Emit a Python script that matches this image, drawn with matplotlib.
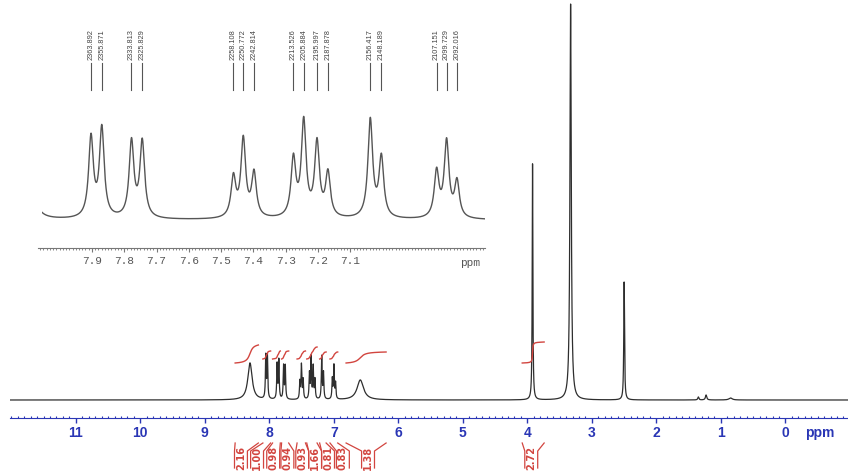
#!/usr/bin/env python
"""
1H NMR spectrum with an expanded view of the aromatic region
"""

import numpy as np
import matplotlib
matplotlib.use("Agg")
import matplotlib.pyplot as plt
from matplotlib.ticker import MultipleLocator
from matplotlib.transforms import Affine2D, blended_transform_factory

W, H = 848, 474
SPEC_MHZ = 300.0

# aromatic lines picked in the expansion (Hz) and their heights in the inset
LINE_HZ = [2363.892, 2355.871, 2333.813, 2325.829, 2258.108, 2250.772, 2242.814,
           2213.526, 2205.884, 2195.997, 2187.878, 2156.417, 2148.189,
           2107.151, 2099.729, 2092.016]
LINE_AMP = [80, 89, 76, 76, 40, 78, 44, 58, 95, 74, 44, 98, 60, 46, 76, 36]
LINE_HW = 0.007

# doublet just outside the expansion
EXTRA_PPM = [8.055, 8.030]
EXTRA_AMP = [98, 98]

# other signals of the full spectrum: position, height, half width
SINGLET_PPM = [8.30, 6.59, 3.92, 3.33, 2.50, 1.35, 1.23, 0.85]
SINGLET_AMP = [37, 20, 236, 396, 118, 3, 5, 2]
SINGLET_HW = [0.04, 0.06, 0.006, 0.012, 0.007, 0.01, 0.012, 0.03]

# integrals
INT_VALUES = ["2.16", "1.00", "0.98", "0.94", "0.93", "1.66", "0.81", "0.83", "1.38", "2.72"]
INT_FROM = [8.53, 8.10, 7.95, 7.81, 7.57, 7.42, 7.22, 7.06, 6.81, 4.08]
INT_TO = [8.17, 7.98, 7.83, 7.70, 7.44, 7.26, 7.12, 6.94, 6.19, 3.74]
INT_BASE = [37, 41, 41, 41, 41, 41, 41, 41, 37, 37]
INT_RISE = [18, 8, 8, 8, 8, 12, 7, 7, 11, 21]
INT_LABEL_PPM = [8.44, 8.19, 7.94, 7.72, 7.49, 7.29, 7.09, 6.86, 6.47, 3.94]

MAIN_TICKS = list(range(0, 12))
INSET_TICKS = [7.9, 7.8, 7.7, 7.6, 7.5, 7.4, 7.3, 7.2, 7.1]

BLUE = "#2a36b5"
RED = "#d2453f"
INSET_SCALE = 1 / 2.3   # inset heights -> main heights


def lorentz(x, x0, amp, hw):
    return amp * hw ** 2 / ((x - x0) ** 2 + hw ** 2)


def spectrum(ppm, main=True):
    y = np.zeros_like(ppm)
    scale = INSET_SCALE if main else 1.0
    line_ppm = [hz / SPEC_MHZ for hz in LINE_HZ] + EXTRA_PPM
    line_amp = LINE_AMP + EXTRA_AMP
    for p, a in zip(line_ppm, line_amp):
        y += lorentz(ppm, p, a * scale, LINE_HW)
    if main:
        for p, a, w in zip(SINGLET_PPM, SINGLET_AMP, SINGLET_HW):
            y += lorentz(ppm, p, a, w)
    return y


def plot():
    fig = plt.figure(figsize=(W / 100, H / 100), dpi=100)
    px = Affine2D().scale(1.0 / W, -1.0 / H).translate(0, 1) + fig.transFigure

    # full spectrum
    ax = fig.add_axes([10 / W, 1 - 418 / H, 838 / W, 418 / H])
    ppm = np.linspace(12.02, -0.97, 30000)
    spec = spectrum(ppm)
    ax.plot(ppm, spec, color="#2e2e2e", lw=0.9)
    ax.set_xlim(12.02, -0.97)
    ax.set_ylim(-18, 400)
    for s in ["top", "left", "right"]:
        ax.spines[s].set_visible(False)
    ax.spines["bottom"].set_color(BLUE)
    ax.set_yticks([])
    ax.set_xticks(MAIN_TICKS)
    ax.set_xticklabels([str(t) for t in MAIN_TICKS])
    ax.xaxis.set_minor_locator(MultipleLocator(0.1))
    ax.tick_params(axis="x", which="major", direction="out", length=3.5, width=1,
                   color=BLUE, labelcolor=BLUE, labelsize=10, pad=2)
    ax.tick_params(axis="x", which="minor", direction="in", length=1.5, width=0.8, color=BLUE)
    for lab in ax.get_xticklabels():
        lab.set_fontweight("bold")
        lab.set_fontfamily("Liberation Sans")
    fig.text(820, 433, "ppm", transform=px, color=BLUE, fontsize=10, fontweight="bold",
             family="Liberation Sans", ha="center", va="center")

    # integral curves and labels
    blend = blended_transform_factory(ax.transData, px)
    half = 0.1
    for i in range(len(INT_VALUES)):
        m = (ppm <= INT_FROM[i]) & (ppm >= INT_TO[i])
        cum = np.cumsum(spec[m])
        cum = cum / cum[-1]
        ax.plot(ppm[m], INT_BASE[i] + INT_RISE[i] * cum, color=RED, lw=1)
        lab = INT_LABEL_PPM[i]
        ax.plot([INT_FROM[i], lab + half, lab + half], [443, 451, 468],
                transform=blend, color=RED, lw=0.9, clip_on=False)
        ax.plot([INT_TO[i], lab - half, lab - half], [443, 451, 468],
                transform=blend, color=RED, lw=0.9, clip_on=False)
        ax.text(lab, 458, INT_VALUES[i], transform=blend, rotation=90, ha="center",
                va="center", color=RED, fontsize=7, fontweight="bold",
                family="Liberation Sans Narrow")

    # expansion of the aromatic region
    ax_in = fig.add_axes([42 / W, 1 - 240 / H, (485 - 42) / W, 220 / H])
    ppm_in = np.linspace(8.001, 6.904, 4000)
    ax_in.plot(ppm_in, spectrum(ppm_in, main=False), color="#555555", lw=1.0)
    ax_in.set_xlim(8.001, 6.904)
    ax_in.set_ylim(-20, 200)
    ax_in.axis("off")
    for hz in LINE_HZ:
        p = hz / SPEC_MHZ
        ax_in.plot([p, p], [130, 157], color="#555555", lw=0.8, clip_on=False)
        ax_in.text(p, 160, "%.3f" % hz, rotation=90, ha="center", va="bottom",
                   fontsize=5.3, color="#444444", family="Liberation Sans", clip_on=False)

    # ruler of the expansion
    ax_r = fig.add_axes([38 / W, 1 - 248 / H, (485 - 38) / W, 10 / H])
    ax_r.set_xlim(8.067, 6.683)
    ax_r.set_yticks([])
    for s in ["top", "left", "right"]:
        ax_r.spines[s].set_visible(False)
    ax_r.spines["bottom"].set_color("#777777")
    ax_r.patch.set_alpha(0)
    ax_r.set_xticks(INSET_TICKS)
    ax_r.set_xticklabels(["%.1f" % t for t in INSET_TICKS], family="Liberation Mono")
    ax_r.xaxis.set_minor_locator(MultipleLocator(0.01))
    ax_r.tick_params(axis="x", which="major", direction="out", length=3, width=0.8,
                     color="#777777", labelcolor="#555555", labelsize=8, pad=3)
    ax_r.tick_params(axis="x", which="minor", direction="out", length=1.5, width=0.6,
                     color="#777777")
    fig.text(470, 263, "ppm", transform=px, color="#555555", fontsize=8,
             family="Liberation Mono", ha="center", va="center")

    fig.savefig("out.png", dpi=100)


if __name__ == "__main__":
    plot()
